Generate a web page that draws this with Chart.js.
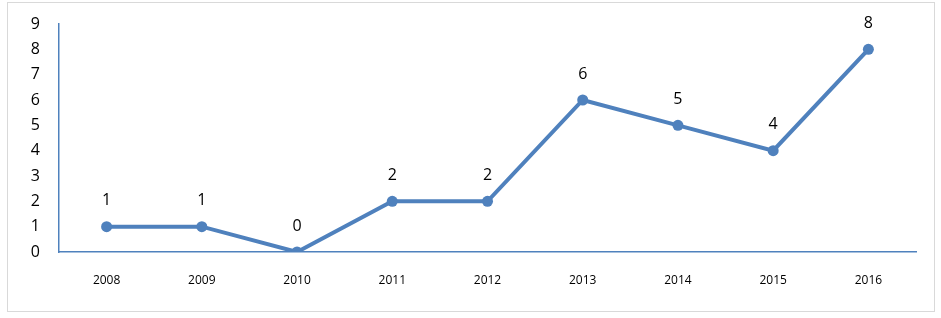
<!DOCTYPE html>
<html>
<head>
<meta charset="utf-8">
<script src="https://cdn.jsdelivr.net/npm/chart.js@4"></script>
<style>
  html, body { margin: 0; padding: 0; background: #fff; }
  #wrap { width: 941px; height: 318px; position: relative; }
</style>
</head>
<body>
<div id="wrap"><canvas id="chart" width="941" height="318"></canvas></div>
<script>
const years = ["2008", "2009", "2010", "2011", "2012", "2013", "2014", "2015", "2016"];
const counts = [1, 1, 0, 2, 2, 6, 5, 4, 8];
const yTicks = [0, 1, 2, 3, 4, 5, 6, 7, 8, 9];

const BLUE = "#4f81bd";
const FONT = "'Open Sans', sans-serif";

// frame round the whole chart
const framePlugin = {
  id: "frame",
  beforeDraw(chart) {
    const c = chart.ctx;
    c.save();
    c.strokeStyle = "#d9d9d9";
    c.lineWidth = 1;
    c.strokeRect(7.5, 2.5, 927, 309);
    c.restore();
  }
};

// value labels above each point
const valueLabels = {
  id: "valueLabels",
  afterDatasetsDraw(chart) {
    const c = chart.ctx;
    const meta = chart.getDatasetMeta(0);
    c.save();
    c.fillStyle = "#000";
    c.font = "16px " + FONT;
    c.textAlign = "center";
    c.textBaseline = "middle";
    meta.data.forEach((pt, i) => {
      c.fillText(String(counts[i]), pt.x, pt.y - 26);
    });
    c.restore();
  }
};

new Chart(document.getElementById("chart"), {
  type: "line",
  data: {
    labels: years,
    datasets: [{
      data: counts,
      borderColor: BLUE,
      backgroundColor: BLUE,
      borderWidth: 4,
      pointRadius: 5.5,
      pointHoverRadius: 5.5,
      pointBorderWidth: 0,
      tension: 0
    }]
  },
  options: {
    responsive: false,
    animation: false,
    events: [],
    layout: { padding: { left: 0, right: 25, top: 24, bottom: 0 } },
    plugins: { legend: { display: false }, tooltip: { enabled: false } },
    scales: {
      x: {
        offset: true,
        grid: { display: false, drawTicks: false },
        border: { display: true, color: BLUE, width: 1.5 },
        ticks: { color: "#000", font: { family: FONT, size: 12 }, padding: 21, maxRotation: 0 },
        afterFit(s) { s.height = 66; s.paddingLeft = 0; s.paddingRight = 0; }
      },
      y: {
        min: 0,
        max: 9,
        afterBuildTicks(s) { s.ticks = yTicks.map(v => ({ value: v })); },
        grid: { display: false, drawTicks: false },
        border: { display: true, color: BLUE, width: 1.5 },
        ticks: { color: "#000", font: { family: FONT, size: 16 }, padding: 19 },
        afterFit(s) { s.width = 59; s.paddingTop = 0; s.paddingBottom = 0; }
      }
    }
  },
  plugins: [framePlugin, valueLabels]
});
</script>
</body>
</html>
